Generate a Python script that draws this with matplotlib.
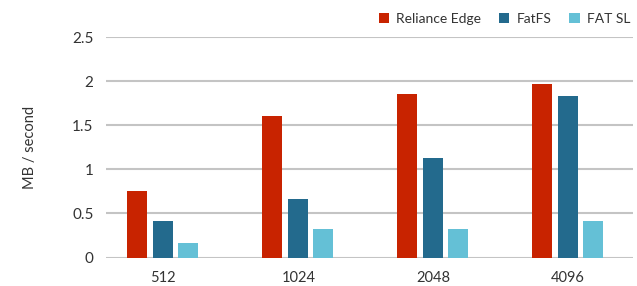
import matplotlib.pyplot as plt
import numpy as np

plt.rcParams['font.family'] = ['Lato', 'DejaVu Sans']

block_sizes = ['512', '1024', '2048', '4096']
reliance_edge = [0.75, 1.61, 1.86, 1.97]
fatfs = [0.41, 0.66, 1.13, 1.83]
fat_sl = [0.16, 0.32, 0.32, 0.41]

series = [('Reliance Edge', reliance_edge, '#C82300'),
          ('FatFS', fatfs, '#236A8D'),
          ('FAT SL', fat_sl, '#64C0D6')]

fig = plt.figure(figsize=(6.37, 2.86), dpi=100)
ax = fig.add_axes([106 / 637, 28.5 / 286, 527 / 637, 220.2 / 286])

x = np.arange(len(block_sizes))
width = 0.148
offsets = [-0.192, 0.0, 0.183]
for (name, vals, color), off in zip(series, offsets):
    ax.bar(x + off, vals, width, color=color, label=name, zorder=3)

ax.set_xlim(-0.425, 3.48)
ax.set_ylim(0, 2.5)
ax.set_yticks([0, 0.5, 1, 1.5, 2, 2.5])
ax.set_yticklabels(['0', '0.5', '1', '1.5', '2', '2.5'])
ax.set_xticks(x)
ax.set_xticklabels(block_sizes)

ax.grid(axis='y', color='#c4c4c4', lw=1.5, zorder=0)
for s in ax.spines.values():
    s.set_visible(False)
ax.tick_params(axis='both', length=0, labelsize=11, colors='#333333')
ax.tick_params(axis='y', pad=9)
ax.tick_params(axis='x', pad=10, labelsize=10.5)
ax.set_ylabel('MB / second', fontsize=10.5, color='#333333', labelpad=25)

ax.legend(loc='upper right', bbox_to_anchor=(1.005, 1.135), ncol=3, frameon=False,
          fontsize=10, handlelength=0.75, handleheight=0.75, handletextpad=0.5,
          columnspacing=1.3, borderaxespad=0, labelcolor='#333333')

plt.savefig('out.png', dpi=100)
